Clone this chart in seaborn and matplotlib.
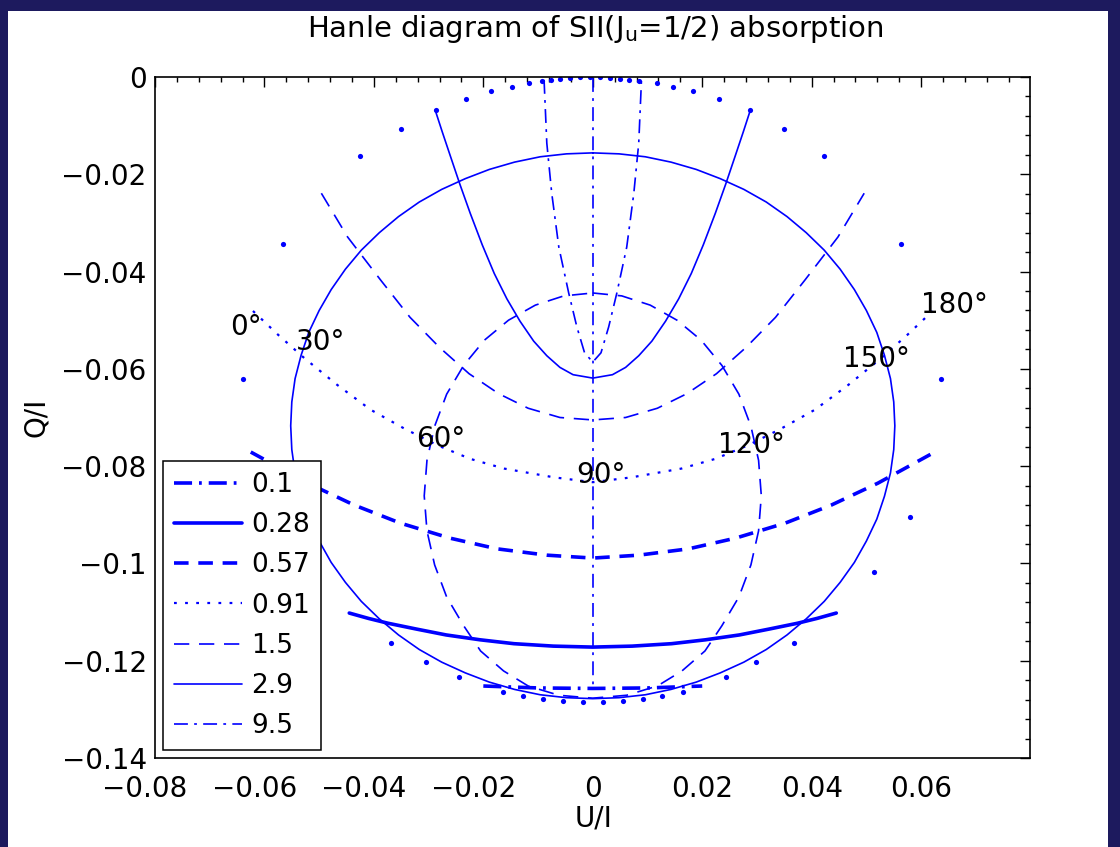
import matplotlib
matplotlib.use("Agg")
import matplotlib.pyplot as plt
import matplotlib.transforms as mtransforms
from matplotlib.lines import Line2D
from matplotlib.patches import Rectangle
from matplotlib.ticker import MultipleLocator
import pandas as pd
import seaborn as sns

# ------------------------------------------------------------------ data
field_labels = ["0.1", "0.28", "0.57", "0.91", "1.5", "2.9", "9.5"]

# 0.1  (thick dash-dot)
u_01 = [-0.0200, -0.0100, 0.0, 0.0100, 0.0200]
q_01 = [-0.1252, -0.1256, -0.1257, -0.1256, -0.1252]

# 0.28 (thick solid)
u_028 = [-0.0445, -0.0410, -0.0374, -0.0322, -0.0268, -0.0206, -0.0144, -0.0072, 0.0,
         0.0072, 0.0144, 0.0206, 0.0268, 0.0322, 0.0374, 0.0410, 0.0445]
q_028 = [-0.1102, -0.1113, -0.1123, -0.1135, -0.1147, -0.1157, -0.1165, -0.1170, -0.1172,
         -0.1170, -0.1165, -0.1157, -0.1147, -0.1135, -0.1123, -0.1113, -0.1102]

# 0.57 (thick dashed)
u_057 = [-0.0625, -0.0521, -0.0436, -0.0352, -0.0261, -0.0175, -0.0084, 0.0,
         0.0084, 0.0175, 0.0261, 0.0352, 0.0436, 0.0521, 0.0625]
q_057 = [-0.0771, -0.0835, -0.0880, -0.0917, -0.0948, -0.0970, -0.0983, -0.0989,
         -0.0983, -0.0970, -0.0948, -0.0917, -0.0880, -0.0835, -0.0771]

# 0.91 (dotted)
u_091 = [-0.0621, -0.0575, -0.0527, -0.0467, -0.0406, -0.0344, -0.0284, -0.0224, -0.0162, -0.0071, 0.0,
         0.0071, 0.0162, 0.0224, 0.0284, 0.0344, 0.0406, 0.0467, 0.0527, 0.0575, 0.0621]
q_091 = [-0.0481, -0.0530, -0.0578, -0.0633, -0.0684, -0.0723, -0.0757, -0.0785, -0.0805, -0.0823, -0.0833,
         -0.0823, -0.0805, -0.0785, -0.0757, -0.0723, -0.0684, -0.0633, -0.0578, -0.0530, -0.0481]

# 1.5 (thin dashed): closed loop and upper arc
u_15_loop = [0.0, 0.0053, 0.0105, 0.0154, 0.0198, 0.0236, 0.0267, 0.0289, 0.0303, 0.0308, 0.0303,
             0.0289, 0.0267, 0.0236, 0.0205, 0.0163, 0.0118, 0.0062, 0.0,
             -0.0062, -0.0118, -0.0163, -0.0205, -0.0236, -0.0267, -0.0289, -0.0303, -0.0308, -0.0303,
             -0.0289, -0.0267, -0.0236, -0.0198, -0.0154, -0.0105, -0.0053, 0.0]
q_15_loop = [-0.0444, -0.0450, -0.0469, -0.0500, -0.0541, -0.0593, -0.0652, -0.0718, -0.0788, -0.0861, -0.0933,
             -0.1003, -0.1069, -0.1128, -0.1180, -0.1221, -0.1252, -0.1271, -0.1277,
             -0.1271, -0.1252, -0.1221, -0.1180, -0.1128, -0.1069, -0.1003, -0.0933, -0.0861, -0.0788,
             -0.0718, -0.0652, -0.0593, -0.0541, -0.0500, -0.0469, -0.0450, -0.0444]
u_15_arc = [-0.0496, -0.0448, -0.0388, -0.0334, -0.0280, -0.0226, -0.0172, -0.0118, -0.0060, 0.0,
            0.0060, 0.0118, 0.0172, 0.0226, 0.0280, 0.0334, 0.0388, 0.0448, 0.0496]
q_15_arc = [-0.0239, -0.0329, -0.0417, -0.0494, -0.0556, -0.0610, -0.0651, -0.0681, -0.0700, -0.0705,
            -0.0700, -0.0681, -0.0651, -0.0610, -0.0556, -0.0494, -0.0417, -0.0329, -0.0239]

# 2.9 (thin solid): closed loop and cup
u_29_loop = [0.0, 0.0048, 0.0096, 0.0143, 0.0189, 0.0233, 0.0276, 0.0317, 0.0355, 0.0390, 0.0423, 0.0452,
             0.0478, 0.0500, 0.0519, 0.0533, 0.0544, 0.0550, 0.0552, 0.0550, 0.0544, 0.0533, 0.0519, 0.0500,
             0.0478, 0.0452, 0.0423, 0.0390, 0.0355, 0.0317, 0.0276, 0.0233, 0.0189, 0.0143, 0.0096, 0.0048,
             0.0,
             -0.0048, -0.0096, -0.0143, -0.0189, -0.0233, -0.0276, -0.0317, -0.0355, -0.0390, -0.0423, -0.0452,
             -0.0478, -0.0500, -0.0519, -0.0533, -0.0544, -0.0550, -0.0552, -0.0550, -0.0544, -0.0533, -0.0519,
             -0.0500, -0.0478, -0.0452, -0.0423, -0.0390, -0.0355, -0.0317, -0.0276, -0.0233, -0.0189, -0.0143,
             -0.0096, -0.0048, 0.0]
q_29_loop = [-0.0156, -0.0158, -0.0164, -0.0175, -0.0190, -0.0209, -0.0231, -0.0257, -0.0287, -0.0320, -0.0356, -0.0395,
             -0.0437, -0.0480, -0.0525, -0.0572, -0.0620, -0.0668, -0.0717, -0.0766, -0.0814, -0.0862, -0.0909, -0.0954,
             -0.0998, -0.1039, -0.1078, -0.1114, -0.1147, -0.1177, -0.1203, -0.1225, -0.1244, -0.1259, -0.1270, -0.1276,
             -0.1278,
             -0.1276, -0.1270, -0.1259, -0.1244, -0.1225, -0.1203, -0.1177, -0.1147, -0.1114, -0.1078, -0.1039,
             -0.0998, -0.0954, -0.0909, -0.0862, -0.0814, -0.0766, -0.0717, -0.0668, -0.0620, -0.0572, -0.0525,
             -0.0480, -0.0437, -0.0395, -0.0356, -0.0320, -0.0287, -0.0257, -0.0231, -0.0209, -0.0190, -0.0175,
             -0.0164, -0.0158, -0.0156]
u_29_cup = [-0.0288, -0.0275, -0.0261, -0.0243, -0.0224, -0.0202, -0.0180, -0.0157, -0.0133, -0.0108, -0.0084,
            -0.0060, -0.0036, 0.0, 0.0036, 0.0060, 0.0084, 0.0108, 0.0133, 0.0157, 0.0180, 0.0202, 0.0224,
            0.0243, 0.0261, 0.0275, 0.0288]
q_29_cup = [-0.0068, -0.0113, -0.0160, -0.0220, -0.0280, -0.0345, -0.0404, -0.0456, -0.0502, -0.0543, -0.0573,
            -0.0597, -0.0612, -0.0619, -0.0612, -0.0597, -0.0573, -0.0543, -0.0502, -0.0456, -0.0404, -0.0345,
            -0.0280, -0.0220, -0.0160, -0.0113, -0.0068]

# 9.5 (thin dash-dot): vertical axis and narrow cup
u_95_axis = [0.0, 0.0]
q_95_axis = [-0.0002, -0.1256]
u_95_cup = [-0.0089, -0.0084, -0.0075, -0.0062, -0.0044, -0.0029, -0.0015, 0.0,
            0.0015, 0.0029, 0.0044, 0.0062, 0.0075, 0.0084, 0.0089]
q_95_cup = [-0.0006, -0.0136, -0.0239, -0.0350, -0.0444, -0.0514, -0.0567, -0.0586,
            -0.0567, -0.0514, -0.0444, -0.0350, -0.0239, -0.0136, -0.0006]

# sparse sample points on the outer envelope
u_dots = [-0.0640, -0.0567, -0.0425, -0.0350, -0.0286, -0.0231, -0.0186, -0.0148, -0.0117, -0.0093,
          -0.0077, -0.0059, -0.0041, -0.0023, -0.0005, 0.0013, 0.0031, 0.0049, 0.0067, 0.0085,
          0.0117, 0.0146, 0.0184, 0.0231, 0.0288, 0.0350, 0.0423, 0.0563, 0.0636,
          0.0580, 0.0514, 0.0368, 0.0299, 0.0244,
          0.0164, 0.0127, 0.0091, 0.0055, 0.0018, -0.0018, -0.0055, -0.0091, -0.0127, -0.0164,
          -0.0244, -0.0304, -0.0368, -0.0514, -0.0580]
q_dots = [-0.0621, -0.0343, -0.0162, -0.0107, -0.0068, -0.0045, -0.0029, -0.0021, -0.0012, -0.0008,
          -0.0006, -0.0004, -0.0002, -0.0001, -0.0001, -0.0001, -0.0002, -0.0004, -0.0006, -0.0008,
          -0.0012, -0.0021, -0.0029, -0.0045, -0.0068, -0.0107, -0.0162, -0.0343, -0.0621,
          -0.0905, -0.1018, -0.1164, -0.1203, -0.1234,
          -0.1264, -0.1273, -0.1279, -0.1283, -0.1285, -0.1285, -0.1283, -0.1279, -0.1273, -0.1264,
          -0.1234, -0.1203, -0.1164, -0.1018, -0.0905]

# azimuth labels along the 0.91 curve
azimuth_labels = ["0°", "30°", "60°", "90°", "120°", "150°", "180°"]
u_azimuth = [-0.0634, -0.0497, -0.0277, 0.0015, 0.0290, 0.0518, 0.0661]
q_azimuth = [-0.0530, -0.0561, -0.0761, -0.0835, -0.0773, -0.0596, -0.0485]

x_ticks = [-0.08, -0.06, -0.04, -0.02, 0.0, 0.02, 0.04, 0.06]
x_tick_labels = ["\u22120.08", "\u22120.06", "\u22120.04", "\u22120.02", "0", "0.02", "0.04", "0.06"]
y_ticks = [0.0, -0.02, -0.04, -0.06, -0.08, -0.10, -0.12, -0.14]
y_tick_labels = ["0", "\u22120.02", "\u22120.04", "\u22120.06", "\u22120.08", "\u22120.1", "\u22120.12", "\u22120.14"]

segments = [
    ("0.1", u_01, q_01), ("0.28", u_028, q_028), ("0.57", u_057, q_057),
    ("0.91", u_091, q_091), ("1.5", u_15_loop, q_15_loop), ("1.5", u_15_arc, q_15_arc),
    ("2.9", u_29_loop, q_29_loop), ("2.9", u_29_cup, q_29_cup),
    ("9.5", u_95_axis, q_95_axis), ("9.5", u_95_cup, q_95_cup),
]
rows = []
for sid, (f, us, qs) in enumerate(segments):
    for k, (u, q) in enumerate(zip(us, qs)):
        rows.append({"field": f, "seg": sid, "order": k, "U": u, "Q": q})
df = pd.DataFrame(rows)

# ------------------------------------------------------------------ style
sns.set_theme(style="white")
plt.rcParams["font.family"] = ["DejaVu Sans"]
plt.rcParams["lines.scale_dashes"] = False
plt.rcParams["mathtext.default"] = "regular"

BLUE = "#0000ff"
styles = {
    "0.1": dict(lw=2.6, ls=(0, (13, 5, 2, 5))),
    "0.28": dict(lw=2.6, ls="-"),
    "0.57": dict(lw=2.6, ls=(0, (10.5, 7))),
    "0.91": dict(lw=1.6, ls=(0, (2, 6))),
    "1.5": dict(lw=1.2, ls=(0, (11, 7))),
    "2.9": dict(lw=1.2, ls="-"),
    "9.5": dict(lw=1.2, ls=(0, (10, 4.5, 2, 4.5))),
}

W, H = 1120, 847
fig = plt.figure(figsize=(W / 100, H / 100), dpi=100, facecolor="#1d1a5e")
fig.add_artist(Rectangle((8 / W, 0), 1100 / W, 836 / H, transform=fig.transFigure,
                         facecolor="white", edgecolor="none", zorder=-10))
ax = fig.add_axes([155 / W, (H - 758) / H, 875 / W, 681 / H])
ax.set_facecolor("white")

for sid, sub in df.groupby("seg", sort=True):
    f = sub["field"].iloc[0]
    st = styles[f]
    sns.lineplot(data=sub.sort_values("order"), x="U", y="Q", sort=False, estimator=None,
                 color=BLUE, linewidth=st["lw"], linestyle=st["ls"], ax=ax, legend=False)

sns.scatterplot(x=u_dots, y=q_dots, color=BLUE, s=14, marker="o", linewidth=0, ax=ax, legend=False)

for lab, u, q in zip(azimuth_labels, u_azimuth, q_azimuth):
    ax.text(u, q, lab, ha="center", va="baseline", fontsize=20, color="black")

ax.set_xlim(-0.08, 0.0799)
ax.set_ylim(-0.14, 0.0)
ax.set_xticks(x_ticks)
ax.set_xticklabels(x_tick_labels)
ax.set_yticks(y_ticks)
ax.set_yticklabels(y_tick_labels)
ax.xaxis.set_minor_locator(MultipleLocator(0.004))
ax.yaxis.set_minor_locator(MultipleLocator(0.004))
ax.tick_params(which="both", direction="in", top=True, right=True, colors="black")
ax.tick_params(which="major", length=7.2, width=1.0, labelsize=20)
ax.tick_params(which="minor", length=3.6, width=1.0)
ax.tick_params(axis="x", which="major", pad=12)
ax.tick_params(axis="y", which="major", pad=6)
for s in ax.spines.values():
    s.set_color("black")
    s.set_linewidth(1.2)

shift = mtransforms.ScaledTranslation(-10 / 100, 0, fig.dpi_scale_trans)
for lab in ax.get_xticklabels():
    if lab.get_text().startswith("\u2212"):
        lab.set_transform(lab.get_transform() + shift)

ax.set_xlabel("U/I", fontsize=20, color="black")
ax.set_ylabel("Q/I", fontsize=20, color="black")
ax.xaxis.set_label_coords((594 - 155) / 875, -(804 - 758) / 681)
ax.yaxis.set_label_coords((50 - 155) / 875, 0.5)

handles = [Line2D([0], [0], color=BLUE, lw=styles[f]["lw"], ls=styles[f]["ls"]) for f in field_labels]
leg = ax.legend(handles, field_labels, loc="lower left", bbox_to_anchor=(8 / 875, 8 / 681),
                borderaxespad=0, fontsize=19, frameon=True, fancybox=False, edgecolor="black",
                framealpha=1, handlelength=2.6, handletextpad=0.35, labelspacing=0.54, borderpad=0.4)
leg.get_frame().set_linewidth(1.1)
for t in leg.get_texts():
    t.set_color("black")

fig.text(595 / W, 1 - 37 / H, r"Hanle diagram of SII(J$_{u}$=1/2) absorption",
         ha="center", va="baseline", fontsize=21, color="black")

fig.savefig("out.png", dpi=100, facecolor=fig.get_facecolor())
